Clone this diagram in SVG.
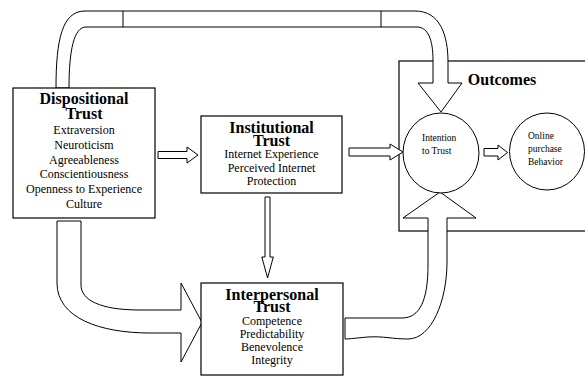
<svg xmlns="http://www.w3.org/2000/svg" width="585" height="376" viewBox="0 0 585 376">
<style>
.box{fill:#fff;stroke:#000;stroke-width:1.2}
.pipe{fill:#fff;stroke:#000;stroke-width:1;stroke-linejoin:miter}
.seam{stroke:#000;stroke-width:1;fill:none}
.ttl{font-family:"Liberation Serif","Times New Roman",serif;font-weight:bold;font-size:16px;text-anchor:middle;fill:#000}
.itm{font-family:"Liberation Serif","Times New Roman",serif;font-size:12px;text-anchor:middle;fill:#000}
.sm{font-family:"Liberation Serif","Times New Roman",serif;font-size:9.5px;fill:#000}
.circ{fill:#fff;stroke:#000;stroke-width:1}
</style>
<rect width="585" height="376" fill="#fff"/>
<g id="outcomes">
<rect class="box" x="399" y="61" width="200" height="170"/>
<text class="ttl" x="502" y="85">Outcomes</text>
</g>
<g id="connectors">
<path class="pipe" d="M56,88 C56,40 62,11 85,11 L415,11 C440,11 448,35 448,62 L448,83 L462,83 L441,112 L418,83 L433,83 L433,60 C433,40 428,27 417,27 L86,27 C74,27 69,50 69,88 Z"/>
<line class="seam" x1="123" y1="11" x2="123" y2="27"/>
<line class="seam" x1="381" y1="11" x2="381" y2="27"/>
<path class="pipe" d="M57,221 L57,283 C57,318 100,333 150,333 L181,333 L181,362 L202,322.5 L181,283 L181,310 L140,310 C100,310 81,300 81,285 L81,221 Z"/>
<path class="pipe" d="M345,318 L402,318 C420,318 428,300 428,265 L428,218 L403,218 L440,192 L476,218 L447,218 L447,262 C447,300 432,339 408,339 C392,339 384,336 368,337 C356,338 350,339 345,339 Z"/>
<path class="pipe" d="M158,151.5 L187,151.5 L187,147 L198,155 L187,163 L187,158.5 L158,158.5 Z"/>
<path class="pipe" d="M349,148 L390,148 L390,144 L403,152 L390,160 L390,156 L349,156 Z"/>
<path class="pipe" d="M484,148.5 L498,148.5 L498,145 L507.5,152.5 L498,160 L498,156 L484,156 Z"/>
<path class="pipe" d="M265,197 L270,197 L270,257 L273.3,257 L267.6,278 L261.8,257 L265,257 Z"/>
</g>
<g id="dispositional">
<rect class="box" x="13" y="88" width="142" height="130"/>
<text class="ttl" x="84" y="104">Dispositional<tspan x="84" dy="15">Trust</tspan></text>
<text class="itm" x="84" y="134">Extraversion</text>
<text class="itm" x="84" y="149">Neuroticism</text>
<text class="itm" x="84" y="163.5">Agreeableness</text>
<text class="itm" x="84" y="178">Conscientiousness</text>
<text class="itm" x="84" y="193">Openness to Experience</text>
<text class="itm" x="84" y="208">Culture</text>
</g>
<g id="institutional">
<rect class="box" x="201" y="116" width="141" height="77"/>
<text class="ttl" x="271.5" y="133">Institutional<tspan x="271.5" dy="12.5">Trust</tspan></text>
<text class="itm" x="271.5" y="158">Internet Experience</text>
<text class="itm" x="271.5" y="171.5">Perceived Internet</text>
<text class="itm" x="271.5" y="184.5">Protection</text>
</g>
<g id="interpersonal">
<rect class="box" x="201" y="283" width="142" height="92"/>
<text class="ttl" x="272" y="300">Interpersonal<tspan x="272" dy="12">Trust</tspan></text>
<text class="itm" x="272" y="325">Competence</text>
<text class="itm" x="272" y="338">Predictability</text>
<text class="itm" x="272" y="351">Benevolence</text>
<text class="itm" x="272" y="364">Integrity</text>
</g>
<g id="intention">
<ellipse class="circ" cx="441" cy="153" rx="38" ry="40"/>
<text class="sm" x="422" y="141">Intention</text>
<text class="sm" x="422" y="153.5">to Trust</text>
</g>
<g id="online">
<ellipse class="circ" cx="547" cy="151.5" rx="37.5" ry="38.5"/>
<text class="sm" x="528" y="139">Online</text>
<text class="sm" x="528" y="152">purchase</text>
<text class="sm" x="528" y="165">Behavior</text>
</g>
</svg>
